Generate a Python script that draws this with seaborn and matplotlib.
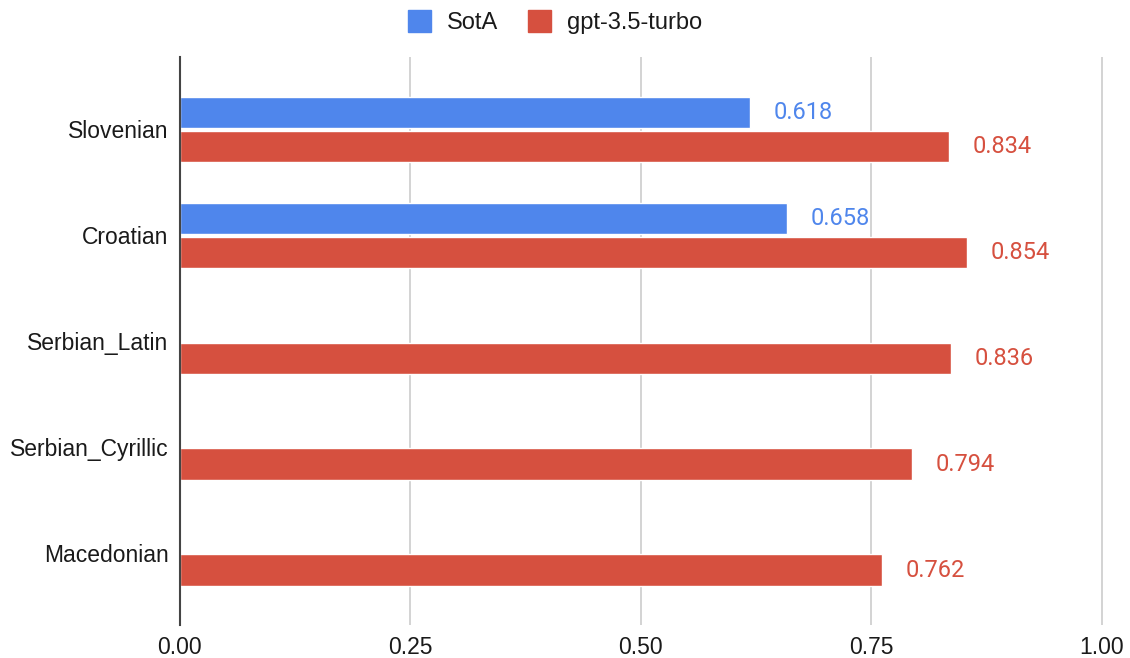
import matplotlib
matplotlib.use("Agg")
import matplotlib.pyplot as plt
import numpy as np
import pandas as pd
import seaborn as sns

# Data
languages = ["Slovenian", "Croatian", "Serbian_Latin", "Serbian_Cyrillic", "Macedonian"]
sota_scores = [0.618, 0.658, np.nan, np.nan, np.nan]
gpt_scores = [0.834, 0.854, 0.836, 0.794, 0.762]
series_names = ["SotA", "gpt-3.5-turbo"]
x_ticks = [0.00, 0.25, 0.50, 0.75, 1.00]

colors = {"SotA": "#4f86ec", "gpt-3.5-turbo": "#d6503f"}

df = pd.DataFrame({
    "Language": languages * 2,
    "Model": [series_names[0]] * len(languages) + [series_names[1]] * len(languages),
    "Score": sota_scores + gpt_scores,
})

sns.set_style("white")
plt.rcParams["font.family"] = ["Liberation Sans", "DejaVu Sans"]
plt.rcParams["text.color"] = "#1a1a1a"

fig = plt.figure(figsize=(11.3, 6.58), dpi=100)
ax = fig.add_axes([0.159, 0.050, 0.817, 0.863])

sns.barplot(data=df, y="Language", x="Score", hue="Model", order=languages,
            hue_order=series_names, palette=colors, orient="h", saturation=1,
            width=0.64, gap=0.08, dodge=True, legend=False, ax=ax)

# value labels in bar colour
for cont, name in zip(ax.containers, series_names):
    labels = ["" if np.isnan(v) else f"{v:.3f}" for v in cont.datavalues]
    ax.bar_label(cont, labels=labels, padding=17, color=colors[name],
                 fontsize=17, family=["Roboto", "DejaVu Sans"])

ax.set_xlim(0, 1.001)
ax.set_ylim(4.68, -0.68)
ax.set_xticks(x_ticks)
ax.set_xticklabels([f"{t:.2f}" for t in x_ticks], fontsize=16.5, color="#1a1a1a")
ax.tick_params(axis="y", labelsize=16.5, length=0, pad=8, labelcolor="#1a1a1a")
ax.tick_params(axis="x", length=0, pad=8)
ax.set_xlabel("")
ax.set_ylabel("")

ax.grid(axis="x", color="#cccccc", linewidth=1.2)
ax.set_axisbelow(True)
for side in ["top", "right", "bottom"]:
    ax.spines[side].set_visible(False)
ax.spines["left"].set_color("#444444")
ax.spines["left"].set_linewidth(1.5)
ax.spines["left"].set_zorder(3)

handles = [plt.Rectangle((0, 0), 1, 1, color=colors[n]) for n in series_names]
fig.legend(handles, series_names, loc="center", bbox_to_anchor=(0.4915, 0.967),
           ncol=2, frameon=False, fontsize=17, handlelength=0.95,
           handleheight=1.1, handletextpad=0.7, columnspacing=1.27)

fig.savefig("out.png", dpi=100)
